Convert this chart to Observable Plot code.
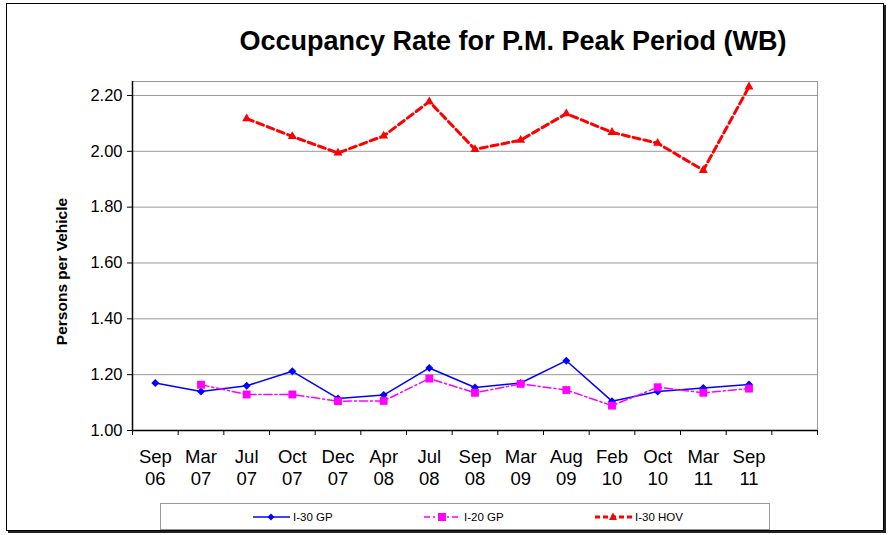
<!DOCTYPE html>
<html>
<head>
<meta charset="utf-8">
<script src="https://cdn.jsdelivr.net/npm/d3@7"></script>
<script src="https://cdn.jsdelivr.net/npm/@observablehq/plot@0.6"></script>
<style>
  html, body { margin: 0; padding: 0; background: #fff; }
  body { font-family: "Liberation Sans", Arial, sans-serif; }
  #wrap { position: relative; width: 888px; height: 535px; overflow: hidden; }
  #frame { position: absolute; left: 6px; top: 3px; width: 876px; height: 526px; border: 1px solid #000; box-shadow: 2px 2px 0 #222; }
  #title { position: absolute; left: 163px; width: 700px; top: 28px; text-align: center; font-weight: bold; font-size: 27px; line-height: 27px; color: #000; white-space: nowrap; }
  #chart { position: absolute; left: 0; top: 0; }
  #legend { position: absolute; left: 160px; top: 503px; width: 608px; height: 25px; border: 1px solid #999; background: #fff; }
  .li { position: absolute; top: 0; height: 25px; display: flex; align-items: center; font-size: 11.5px; color: #000; }
  .li svg { display: block; margin-right: 2px; }
</style>
</head>
<body>
<div id="wrap">
  <div id="frame"></div>
  <div id="chart"></div>
  <div id="title">Occupancy Rate for P.M. Peak Period (WB)</div>
  <div id="legend"></div>
</div>
<script>
const categories = ["Sep\n06","Mar\n07","Jul\n07","Oct\n07","Dec\n07","Apr\n08","Jul\n08","Sep\n08","Mar\n09","Aug\n09","Feb\n10","Oct\n10","Mar\n11","Sep\n11"];
const i30gp  = [1.170, 1.140, 1.160, 1.212, 1.115, 1.127, 1.224, 1.154, 1.170, 1.250, 1.105, 1.140, 1.152, 1.165];
const i20gp  = [null, 1.164, 1.129, 1.129, 1.105, 1.106, 1.186, 1.135, 1.167, 1.145, 1.089, 1.155, 1.135, 1.150];
const i30hov = [null, null, 2.117, 2.053, 1.994, 2.055, 2.178, 2.007, 2.040, 2.135, 2.068, 2.029, 1.932, 2.231];
const yTicks = [1.0, 1.2, 1.4, 1.6, 1.8, 2.0, 2.2];
const seriesNames = ["I-30 GP", "I-20 GP", "I-30 HOV"];
const yLabel = "Persons per Vehicle";

const slots = categories.length + 1; // one empty slot at the right, as in the original
const toRows = arr => arr.map((v, i) => ({i: i + 0.5, v})).filter(d => d.v != null);
const gp30 = toRows(i30gp), gp20 = toRows(i20gp), hov = toRows(i30hov);

const chart = Plot.plot({
  width: 888,
  height: 535,
  marginLeft: 132,
  marginRight: 71,
  marginTop: 81,
  marginBottom: 105,
  style: {fontFamily: '"Liberation Sans", Arial, sans-serif', background: "transparent", color: "#000"},
  x: {type: "linear", domain: [0, slots]},
  y: {domain: [1, 2.25]},
  marks: [
    Plot.gridY(yTicks, {stroke: "#999", strokeOpacity: 1, strokeWidth: 1}),
    Plot.frame({stroke: "#999", strokeWidth: 1}),
    Plot.ruleX([0], {stroke: "#000", strokeWidth: 1.5}),
    Plot.ruleY([1], {stroke: "#000", strokeWidth: 1.5}),
    Plot.axisY(yTicks, {tickSize: 5, tickPadding: 5, tickFormat: d => d.toFixed(2), fontSize: 16.5, label: null, stroke: "#000"}),
    Plot.axisX(d3.range(slots + 1), {tickSize: 5, tickFormat: () => "", label: null, stroke: "#000"}),
    Plot.axisX(categories.map((c, i) => i + 0.5), {tickSize: 0, tickPadding: 18, fontSize: 18.5, lineHeight: 1.14, tickFormat: d => categories[Math.floor(d)], label: null, fill: "#000"}),
    Plot.text([yLabel], {frameAnchor: "left", textAnchor: "middle", lineAnchor: "middle", dx: -70, dy: 15.5, rotate: -90, fontSize: 15.5, fontWeight: "bold", fill: "#000"}),
    Plot.line(gp30, {x: "i", y: "v", stroke: "#0000FF", strokeWidth: 1.5}),
    Plot.dot(gp30, {x: "i", y: "v", symbol: "diamond2", r: 3.6, fill: "#0000FF", stroke: "none"}),
    Plot.line(gp20, {x: "i", y: "v", stroke: "#FF00FF", strokeWidth: 1.5, strokeDasharray: "8,3,2,3"}),
    Plot.dot(gp20, {x: "i", y: "v", symbol: "square2", r: 5, fill: "#FF00FF", stroke: "none"}),
    Plot.line(hov, {x: "i", y: "v", stroke: "#FF0000", strokeWidth: 3, strokeDasharray: "7,4"}),
    Plot.dot(hov, {x: "i", y: "v", symbol: "triangle2", r: 4.3, fill: "#FF0000", stroke: "none"})
  ]
});
document.getElementById("chart").appendChild(chart);

// legend
const legendItems = [
  {name: seriesNames[0], left: 91, color: "#0000FF", dash: null, w: 1.5, sym: "diamond"},
  {name: seriesNames[1], left: 262, color: "#FF00FF", dash: "6,3,2,3", w: 1.5, sym: "square"},
  {name: seriesNames[2], left: 433, color: "#FF0000", dash: "5,3", w: 3, sym: "triangle"}
];
const lg = document.getElementById("legend");
for (const it of legendItems) {
  const div = document.createElement("div");
  div.className = "li";
  div.style.left = it.left + "px";
  let sym = "";
  if (it.sym === "diamond") sym = `<path d="M19,5.5 L22.5,9 L19,12.5 L15.5,9 Z" fill="${it.color}"/>`;
  if (it.sym === "square") sym = `<rect x="15" y="5" width="8" height="8" fill="${it.color}"/>`;
  if (it.sym === "triangle") sym = `<path d="M19,4.5 L23,12 L15,12 Z" fill="${it.color}"/>`;
  div.innerHTML = `<svg width="39" height="18"><line x1="1" x2="38" y1="9" y2="9" stroke="${it.color}" stroke-width="${it.w}" ${it.dash ? `stroke-dasharray="${it.dash}"` : ""}/>${sym}</svg><span>${it.name}</span>`;
  lg.appendChild(div);
}
</script>
</body>
</html>
